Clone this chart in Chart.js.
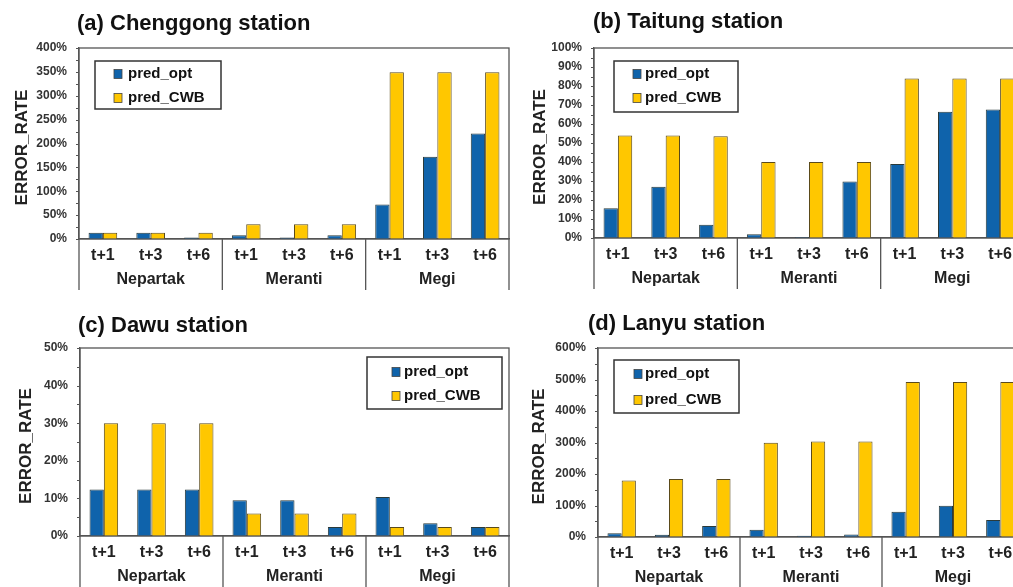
<!DOCTYPE html>
<html>
<head>
<meta charset="utf-8">
<script src="https://cdn.jsdelivr.net/npm/chart.js@4"></script>
<style>
  html, body { margin: 0; padding: 0; background: #fff; overflow: hidden; width: 1013px; height: 587px; }
  canvas { position: absolute; }
</style>
</head>
<body>
<canvas id="ca" width="512" height="295" style="left:0;top:0"></canvas>
<canvas id="cb" width="530" height="295" style="left:512px;top:0"></canvas>
<canvas id="cc" width="512" height="292" style="left:0;top:295px"></canvas>
<canvas id="cd" width="530" height="292" style="left:512px;top:295px"></canvas>
<script>
// ---- data ----
const categories = ['t+1', 't+3', 't+6', 't+1', 't+3', 't+6', 't+1', 't+3', 't+6'];
const groups = ['Nepartak', 'Meranti', 'Megi'];
const seriesNames = ['pred_opt', 'pred_CWB'];

const chenggongOpt = [13, 13, 3, 8, 3, 8, 72, 172, 221];
const chenggongCwb = [13, 13, 13, 31, 31, 31, 349, 349, 349];
const taitungOpt = [15.7, 27, 7, 2, 0.5, 29.7, 39, 66.5, 67.6];
const taitungCwb = [54, 54, 53.6, 40, 40, 40, 84, 84, 84];
const dawuOpt = [12.4, 12.4, 12.4, 9.5, 9.5, 2.4, 10.4, 3.4, 2.4];
const dawuCwb = [30, 30, 30, 6, 6, 6, 2.4, 2.4, 2.4];
const lanyuOpt = [11.6, 7, 35, 23, 4, 8, 80, 99, 54];
const lanyuCwb = [179.5, 184, 184, 299, 303, 303, 492, 492, 492];

const titles = ['(a) Chenggong station', '(b) Taitung station', '(c) Dawu station', '(d) Lanyu station'];
const yTitle = 'ERROR_RATE';
const yMax = [400, 100, 50, 600];
const yStep = [50, 10, 10, 100];

// ---- style ----
const FONT = '"Liberation Sans", Arial, sans-serif';
const BLUE = '#0F63AB';
const YELLOW = '#FFC700';
const AXIS = '#555555';

const panelPlugin = {
  id: 'panel',
  afterDraw(chart, args, o) {
    const ctx = chart.ctx;
    const ca = chart.chartArea;
    const x = chart.scales.x;
    const y = chart.scales.y;
    ctx.save();
    // frame
    ctx.strokeStyle = AXIS;
    ctx.lineWidth = 1.3;
    ctx.strokeRect(ca.left, ca.top, ca.right - ca.left, ca.bottom - ca.top);
    // minor ticks on y
    const half = o.step / 2;
    ctx.lineWidth = 1;
    for (let v = 0; v <= o.max + 1e-9; v += half) {
      const py = Math.round(y.getPixelForValue(v)) + 0.5;
      ctx.beginPath();
      ctx.moveTo(ca.left - 3, py);
      ctx.lineTo(ca.left, py);
      ctx.stroke();
    }
    // group separators
    ctx.lineWidth = 1.3;
    const n = chart.data.labels.length;
    const bounds = [ca.left];
    for (let g = 1; g < groups.length; g++) {
      const i = g * 3;
      bounds.push((x.getPixelForValue(i - 1) + x.getPixelForValue(i)) / 2);
    }
    bounds.push(ca.right);
    bounds.forEach(bx => {
      ctx.beginPath();
      ctx.moveTo(bx, ca.bottom);
      ctx.lineTo(bx, ca.bottom + o.sepLen);
      ctx.stroke();
    });
    // group labels
    ctx.fillStyle = '#222';
    ctx.font = 'bold 16px ' + FONT;
    ctx.textAlign = 'center';
    ctx.textBaseline = 'middle';
    groups.forEach((gname, g) => {
      const cx = (x.getPixelForValue(g * 3) + x.getPixelForValue(g * 3 + 2)) / 2;
      ctx.fillText(gname, cx, ca.bottom + 41);
    });
    // title
    ctx.fillStyle = '#111';
    ctx.font = 'bold 22px ' + FONT;
    ctx.textAlign = 'left';
    ctx.fillText(o.title, o.titleX, o.titleY);
    // y title
    ctx.save();
    ctx.translate(o.yTitleX, (ca.top + ca.bottom) / 2 + 4);
    ctx.rotate(-Math.PI / 2);
    ctx.font = 'bold 17px ' + FONT;
    ctx.textAlign = 'center';
    ctx.fillStyle = '#222';
    ctx.fillText(yTitle, 0, 0);
    ctx.restore();
    // legend
    const L = o.legend;
    ctx.fillStyle = '#fff';
    ctx.fillRect(L.x, L.y, L.w, L.h);
    ctx.strokeStyle = '#333';
    ctx.lineWidth = 1.5;
    ctx.strokeRect(L.x, L.y, L.w, L.h);
    ctx.font = 'bold 15px ' + FONT;
    ctx.textAlign = 'left';
    chart.data.datasets.forEach((ds, i) => {
      const ry = L.row1 + i * L.gap;
      ctx.fillStyle = ds.backgroundColor;
      ctx.fillRect(L.sx, ry - 4.5, 8, 9);
      ctx.strokeStyle = '#444';
      ctx.lineWidth = 0.8;
      ctx.strokeRect(L.sx, ry - 4.5, 8, 9);
      ctx.fillStyle = '#111';
      ctx.fillText(ds.label, L.tx, ry);
    });
    ctx.restore();
  }
};

function makeChart(id, opt, cwb, k, geom) {
  const el = document.getElementById(id);
  const W = el.width, H = el.height;
  return new Chart(el, {
    type: 'bar',
    data: {
      labels: categories,
      datasets: [
        { label: seriesNames[0], data: opt, backgroundColor: BLUE, borderColor: '#2a3a3a', borderWidth: 1 },
        { label: seriesNames[1], data: cwb, backgroundColor: YELLOW, borderColor: '#5a4a1a', borderWidth: 1 }
      ]
    },
    options: {
      responsive: false,
      animation: false,
      devicePixelRatio: 1,
      layout: { padding: { top: geom.T, left: 0, right: W - geom.R, bottom: 0 } },
      datasets: { bar: { categoryPercentage: 0.6, barPercentage: 1.0 } },
      scales: {
        x: {
          grid: { display: false, drawTicks: false },
          border: { display: true, color: AXIS, width: 1.3 },
          ticks: { font: { family: FONT, size: 16, weight: 'bold' }, color: '#222', padding: 7, maxRotation: 0, autoSkip: false },
          afterFit(s) { s.height = H - geom.B; }
        },
        y: {
          min: 0, max: yMax[k],
          grid: { display: false, drawTicks: false },
          border: { display: true, color: AXIS, width: 1.3 },
          ticks: { stepSize: yStep[k], font: { family: FONT, size: 12, weight: 'bold' }, color: '#333', padding: 12,
                   callback: v => v + '%' },
          afterFit(s) { s.width = geom.L; }
        }
      },
      plugins: {
        legend: { display: false },
        tooltip: { enabled: false },
        panel: {
          title: titles[k], titleX: geom.titleX, titleY: geom.titleY,
          yTitleX: geom.yTitleX, sepLen: geom.sepLen,
          max: yMax[k], step: yStep[k], legend: geom.legend
        }
      }
    },
    plugins: [panelPlugin]
  });
}

makeChart('ca', chenggongOpt, chenggongCwb, 0, {
  L: 79, T: 48, R: 509, B: 239, titleX: 77, titleY: 24, yTitleX: 22, sepLen: 51,
  legend: { x: 95, y: 61, w: 126, h: 48, sx: 114, tx: 128, row1: 74, gap: 24 }
});
makeChart('cb', taitungOpt, taitungCwb, 1, {
  L: 82, T: 48, R: 512, B: 238, titleX: 81, titleY: 22, yTitleX: 28, sepLen: 51,
  legend: { x: 102, y: 61, w: 124, h: 51, sx: 121, tx: 133, row1: 74, gap: 24 }
});
makeChart('cc', dawuOpt, dawuCwb, 2, {
  L: 80, T: 53, R: 509, B: 241, titleX: 78, titleY: 31, yTitleX: 26, sepLen: 60,
  legend: { x: 367, y: 62, w: 135, h: 52, sx: 392, tx: 404, row1: 77, gap: 24 }
});
makeChart('cd', lanyuOpt, lanyuCwb, 3, {
  L: 86, T: 53, R: 512, B: 242, titleX: 76, titleY: 29, yTitleX: 27, sepLen: 60,
  legend: { x: 102, y: 65, w: 125, h: 53, sx: 122, tx: 133, row1: 79, gap: 26 }
});
</script>
</body>
</html>
